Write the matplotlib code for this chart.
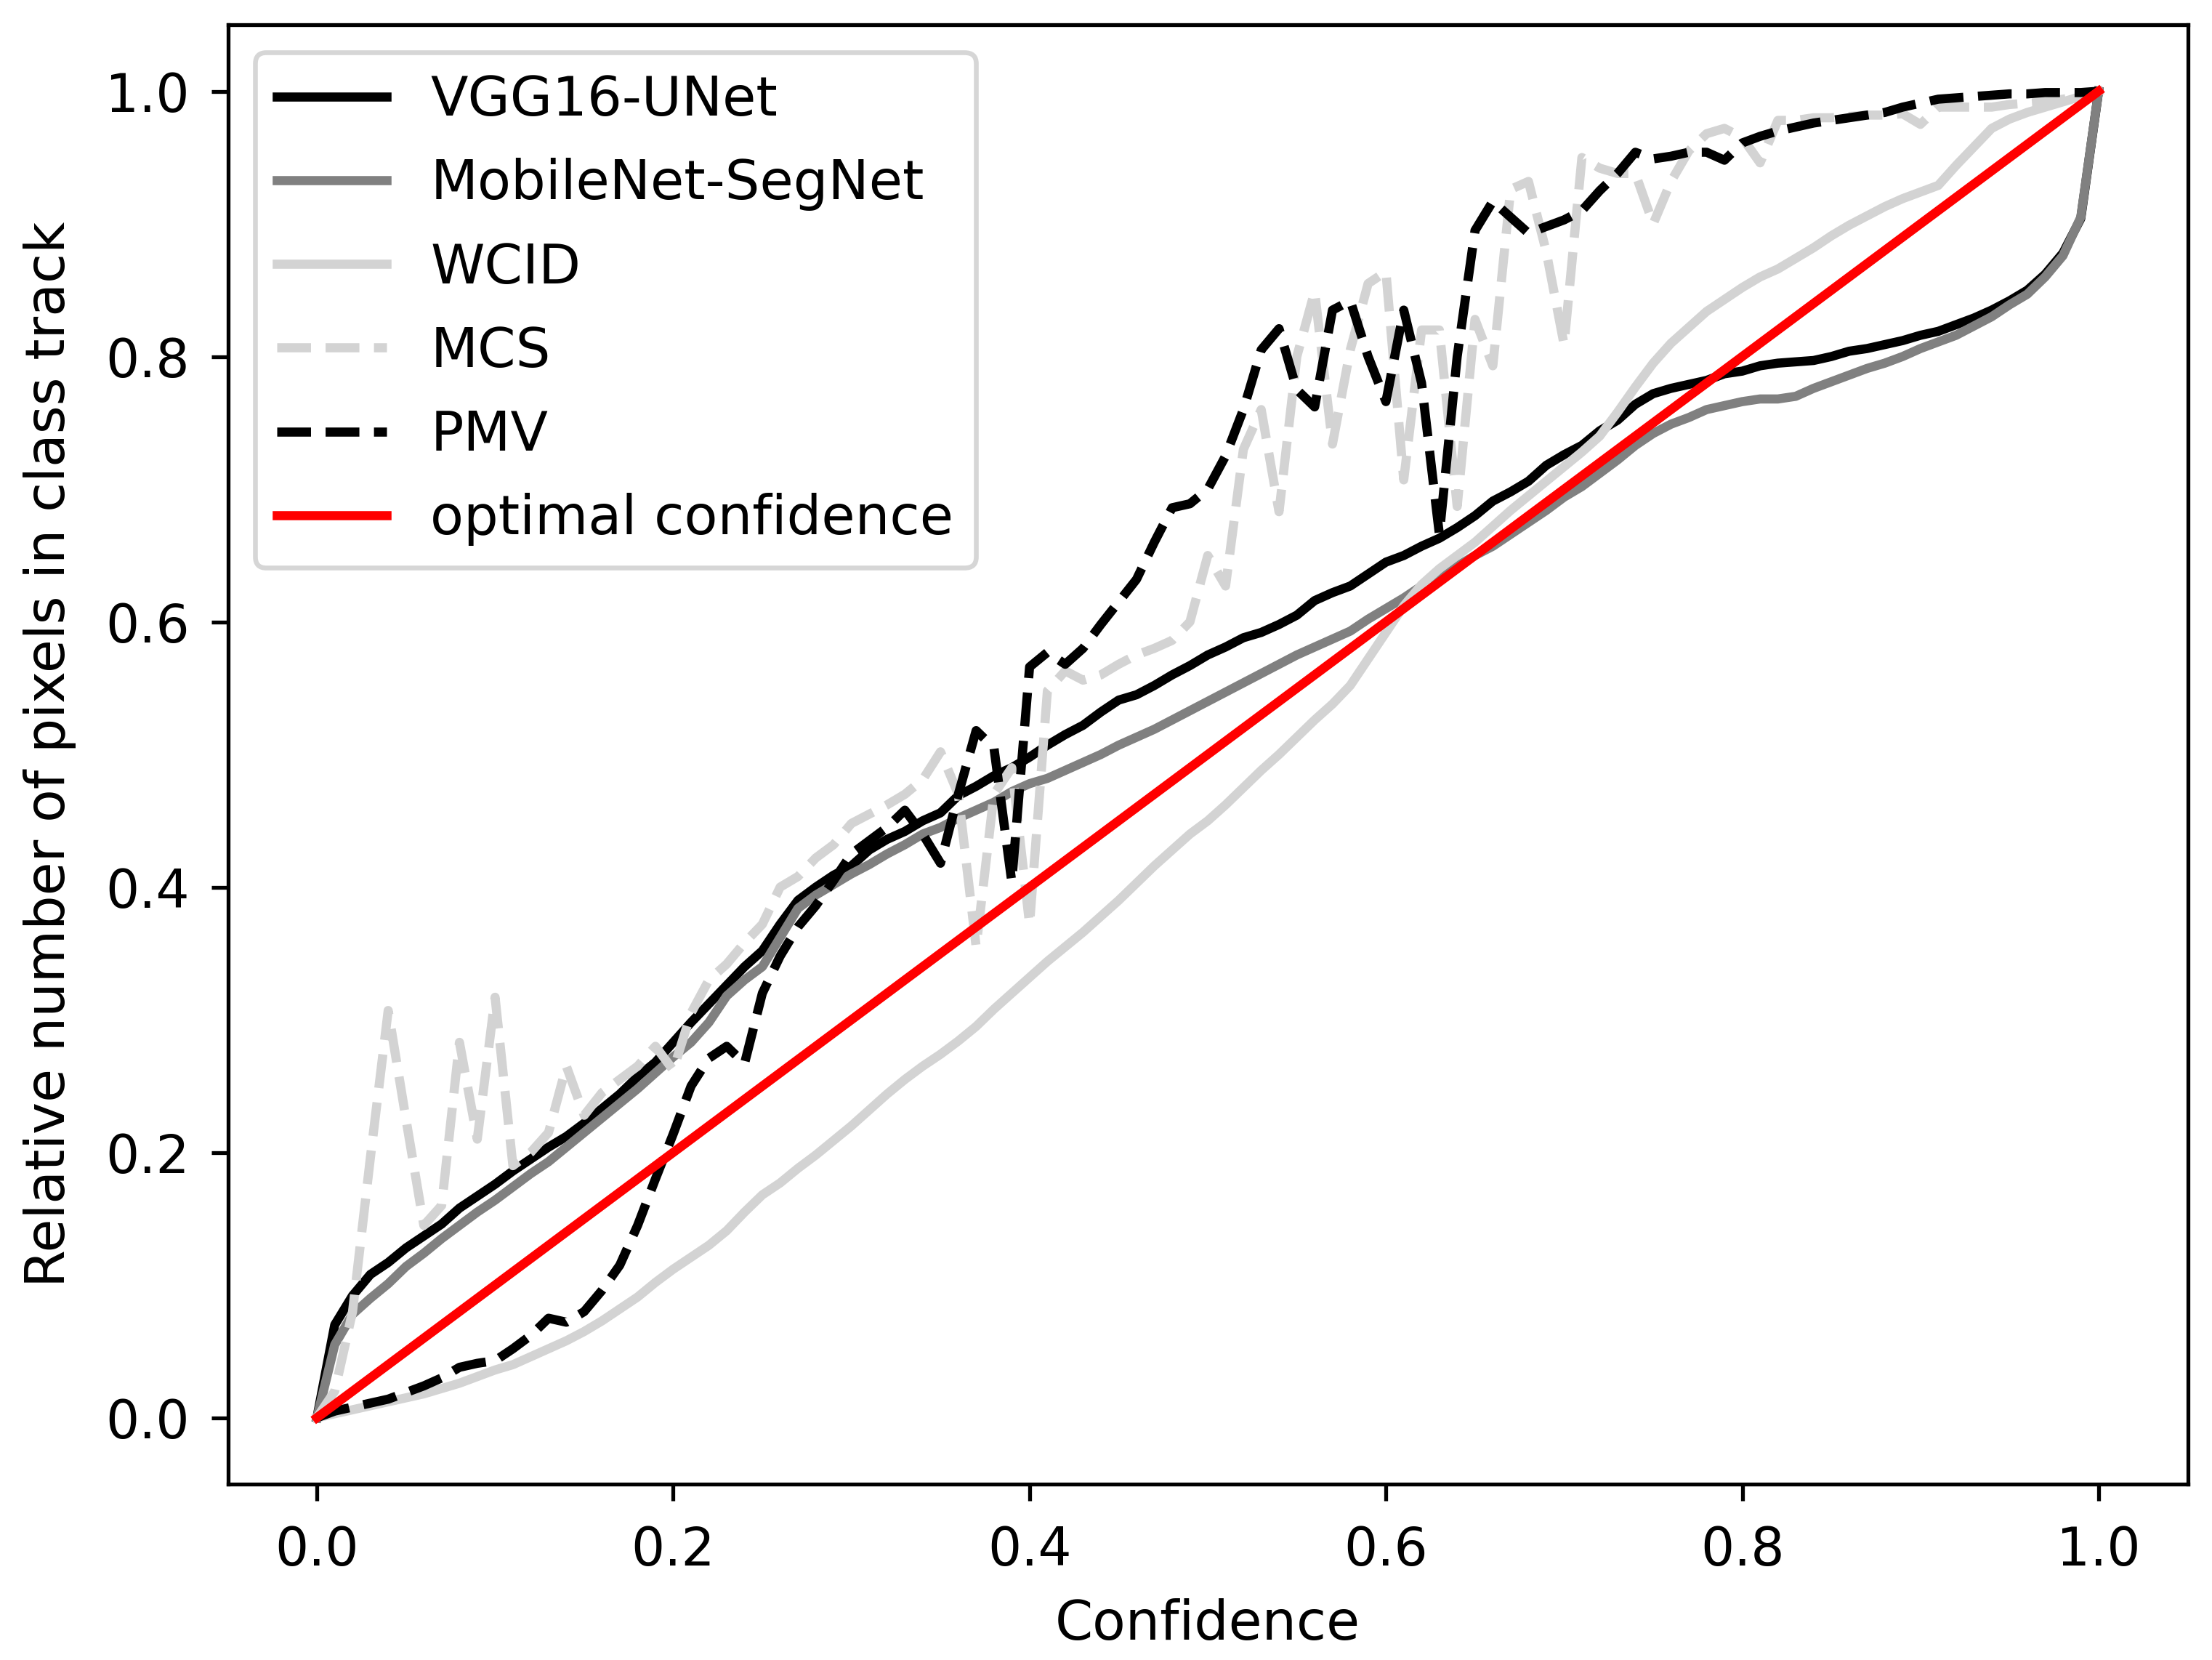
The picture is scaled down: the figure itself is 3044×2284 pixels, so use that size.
import matplotlib

matplotlib.use("Agg")

import matplotlib.pyplot as plt
import numpy as np

# confidence bins 0.00 .. 1.00 (step 0.01)
confidence = np.round(np.arange(0, 101) / 100, 2)

vgg16_unet = [
    0.000, 0.070, 0.092, 0.108, 0.117, 0.128, 0.137, 0.146, 0.158, 0.167,
    0.176, 0.186, 0.195, 0.204, 0.212, 0.222, 0.233, 0.244, 0.257, 0.268,
    0.283, 0.298, 0.312, 0.326, 0.340, 0.352, 0.372, 0.390, 0.400, 0.409,
    0.416, 0.428, 0.436, 0.442, 0.450, 0.456, 0.469, 0.476, 0.484, 0.490,
    0.498, 0.507, 0.515, 0.522, 0.532, 0.541, 0.545, 0.552, 0.560, 0.567,
    0.575, 0.581, 0.588, 0.592, 0.598, 0.605, 0.616, 0.622, 0.627, 0.636,
    0.645, 0.650, 0.657, 0.663, 0.671, 0.680, 0.691, 0.698, 0.706, 0.718,
    0.726, 0.733, 0.744, 0.752, 0.764, 0.772, 0.776, 0.779, 0.782, 0.787,
    0.789, 0.793, 0.795, 0.796, 0.797, 0.800, 0.804, 0.806, 0.809, 0.812,
    0.816, 0.819, 0.824, 0.829, 0.835, 0.842, 0.850, 0.862, 0.878, 0.904,
    1.000,
]

mobilenet_segnet = [
    0.000, 0.055, 0.078, 0.090, 0.101, 0.114, 0.124, 0.135, 0.145, 0.155,
    0.164, 0.174, 0.184, 0.193, 0.204, 0.215, 0.226, 0.237, 0.248, 0.260,
    0.272, 0.283, 0.298, 0.318, 0.330, 0.340, 0.362, 0.384, 0.394, 0.402,
    0.410, 0.417, 0.425, 0.432, 0.440, 0.445, 0.452, 0.458, 0.464, 0.472,
    0.478, 0.482, 0.488, 0.494, 0.500, 0.507, 0.513, 0.519, 0.526, 0.533,
    0.540, 0.547, 0.554, 0.561, 0.568, 0.575, 0.581, 0.587, 0.593, 0.602,
    0.610, 0.618, 0.627, 0.633, 0.642, 0.650, 0.657, 0.666, 0.675, 0.684,
    0.694, 0.702, 0.712, 0.722, 0.733, 0.742, 0.749, 0.754, 0.760, 0.763,
    0.766, 0.768, 0.768, 0.770, 0.776, 0.781, 0.786, 0.791, 0.795, 0.800,
    0.806, 0.811, 0.816, 0.823, 0.830, 0.839, 0.847, 0.860, 0.876, 0.905,
    1.000,
]

wcid = [
    0.000, 0.003, 0.006, 0.009, 0.012, 0.015, 0.018, 0.022, 0.026, 0.031,
    0.036, 0.040, 0.046, 0.052, 0.058, 0.065, 0.073, 0.082, 0.091, 0.102,
    0.112, 0.121, 0.130, 0.141, 0.155, 0.168, 0.177, 0.188, 0.198, 0.209,
    0.220, 0.232, 0.244, 0.255, 0.265, 0.274, 0.284, 0.295, 0.308, 0.320,
    0.332, 0.344, 0.355, 0.366, 0.378, 0.390, 0.403, 0.416, 0.428, 0.440,
    0.450, 0.462, 0.475, 0.488, 0.500, 0.513, 0.526, 0.538, 0.552, 0.572,
    0.592, 0.612, 0.628, 0.640, 0.650, 0.660, 0.672, 0.684, 0.695, 0.706,
    0.717, 0.728, 0.740, 0.758, 0.777, 0.795, 0.810, 0.822, 0.834, 0.843,
    0.852, 0.860, 0.866, 0.874, 0.882, 0.891, 0.899, 0.906, 0.913, 0.919,
    0.924, 0.929, 0.944, 0.958, 0.972, 0.979, 0.984, 0.988, 0.992, 0.996,
    1.000,
]

mcs = [
    0.000, 0.020, 0.080, 0.196, 0.307, 0.225, 0.145, 0.160, 0.283, 0.210,
    0.317, 0.190, 0.200, 0.215, 0.265, 0.228, 0.245, 0.255, 0.265, 0.280,
    0.262, 0.305, 0.330, 0.342, 0.358, 0.372, 0.400, 0.408, 0.422, 0.432,
    0.448, 0.455, 0.462, 0.470, 0.481, 0.502, 0.470, 0.355, 0.470, 0.490,
    0.372, 0.548, 0.563, 0.556, 0.560, 0.568, 0.575, 0.580, 0.586, 0.600,
    0.650, 0.627, 0.730, 0.760, 0.683, 0.800, 0.849, 0.734, 0.805, 0.855,
    0.864, 0.707, 0.820, 0.820, 0.687, 0.828, 0.793, 0.926, 0.932, 0.879,
    0.809, 0.950, 0.942, 0.938, 0.938, 0.900, 0.932, 0.955, 0.968, 0.972,
    0.965, 0.946, 0.978, 0.978, 0.980, 0.980, 0.981, 0.982, 0.982, 0.983,
    0.975, 0.988, 0.988, 0.988, 0.988, 0.990, 0.991, 0.992, 0.994, 0.996,
    1.000,
]

pmv = [
    0.000, 0.005, 0.008, 0.011, 0.014, 0.019, 0.024, 0.030, 0.038, 0.041,
    0.043, 0.052, 0.062, 0.075, 0.072, 0.080, 0.096, 0.115, 0.145, 0.180,
    0.214, 0.250, 0.271, 0.280, 0.267, 0.320, 0.348, 0.370, 0.386, 0.405,
    0.425, 0.435, 0.445, 0.458, 0.440, 0.418, 0.470, 0.518, 0.505, 0.404,
    0.566, 0.577, 0.568, 0.580, 0.598, 0.615, 0.632, 0.660, 0.686, 0.689,
    0.700, 0.725, 0.760, 0.805, 0.821, 0.775, 0.762, 0.835, 0.842, 0.800,
    0.766, 0.835, 0.780, 0.666, 0.800, 0.895, 0.917, 0.905, 0.893, 0.898,
    0.903, 0.910, 0.925, 0.938, 0.954, 0.949, 0.951, 0.954, 0.954, 0.948,
    0.961, 0.966, 0.970, 0.973, 0.976, 0.978, 0.980, 0.982, 0.984, 0.988,
    0.991, 0.994, 0.995, 0.996, 0.997, 0.998, 0.998, 0.999, 0.999, 0.999,
    1.000,
]

optimal_x = [0.0, 1.0]
optimal_y = [0.0, 1.0]

lw = 1.9
fig, ax = plt.subplots(figsize=(3044 / 476, 2284 / 476), dpi=476)
ax.plot(confidence, vgg16_unet, color="black", lw=lw, label="VGG16-UNet")
ax.plot(confidence, mobilenet_segnet, color="gray", lw=lw, label="MobileNet-SegNet")
ax.plot(confidence, wcid, color="lightgray", lw=lw, label="WCID")
ax.plot(confidence, mcs, color="lightgray", lw=lw, linestyle="--", label="MCS")
ax.plot(confidence, pmv, color="black", lw=lw, linestyle="--", label="PMV")
ax.plot(optimal_x, optimal_y, color="red", lw=lw, label="optimal confidence")

ax.set_xlabel("Confidence", fontsize=11.3, labelpad=4.5)
ax.set_ylabel("Relative number of pixels in class track", fontsize=11.3, labelpad=6)
ax.tick_params(labelsize=11)
ax.tick_params(axis="x", pad=5)
ax.tick_params(axis="y", pad=4.5)
ax.legend(loc="upper left", fontsize=11.4, labelspacing=0.56)

fig.subplots_adjust(left=0.103, right=0.989, bottom=0.106, top=0.985)
fig.savefig("out.png", dpi=476)
plt.close(fig)
